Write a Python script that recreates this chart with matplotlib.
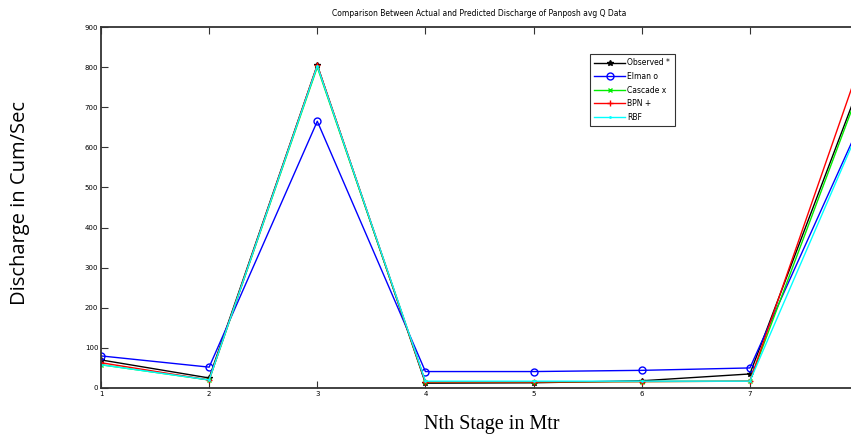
import numpy as np
import matplotlib
matplotlib.use("Agg")
import matplotlib.pyplot as plt

# data
stage = [1, 2, 3, 4, 5, 6, 7, 8]
stage_labels = ["1", "2", "3", "4", "5", "6", "7", ""]
observed = [70, 25, 805, 12, 13, 18, 35, 745]
elman = [80, 52, 665, 41, 41, 44, 50, 647]
cascade = [58, 20, 800, 15, 15, 16, 17, 735]
bpn = [63, 20, 805, 15, 15, 16, 17, 793]
rbf = [58, 20, 803, 17, 17, 17, 17, 640]

W, H = 851, 437
fig = plt.figure(figsize=(W / 100, H / 100), dpi=100)
# axes right spine (x=8) falls just outside the picture like in the reference
ax = fig.add_axes([101 / W, (H - 388) / H, (858 - 101) / W, (388 - 27) / H])

ax.plot(stage, observed, color="black", marker="*", markersize=4, lw=1, label="Observed *")
ax.plot(stage, elman, color="blue", marker="o", markersize=5, mfc="none", lw=1, label="Elman o")
ax.plot(stage, cascade, color="#00ee00", marker="x", markersize=3, lw=1, label="Cascade x")
ax.plot(stage, bpn, color="red", marker="+", markersize=4, lw=1, label="BPN +")
ax.plot(stage, rbf, color="cyan", marker=".", markersize=2, lw=1, label="RBF")

ax.set_xlim(1, 8)
ax.set_ylim(0, 900)
ax.set_xticks(stage, stage_labels)
ax.set_yticks(np.arange(0, 901, 100))
ax.tick_params(direction="in", length=5, width=0.8, labelsize=5, pad=2,
               top=True, right=True, colors="#333333", labelcolor="black")
for s in ax.spines.values():
    s.set_linewidth(1.3)
    s.set_color("#333333")

ax.set_title("Comparison Between Actual and Predicted Discharge of Panposh avg Q Data",
             fontsize=5.5, pad=8)
fig.text(492 / W, 1 - 425 / H, "Nth Stage in Mtr", family="Liberation Serif",
         fontsize=14.5, ha="center", va="center")
fig.text(20 / W, 1 - 203 / H, "Discharge in Cum/Sec", family="Open Sans",
         fontsize=14.5, rotation=90, ha="center", va="center")

leg = ax.legend(loc="upper left", bbox_to_anchor=((586 - 101) / 757, (388 - 50) / 361),
                fontsize=5.5, frameon=True, fancybox=False, edgecolor="black",
                handlelength=4, borderpad=0.6, labelspacing=0.6, handletextpad=0.3)
leg.get_frame().set_linewidth(0.8)

fig.savefig("out.png", dpi=100)
